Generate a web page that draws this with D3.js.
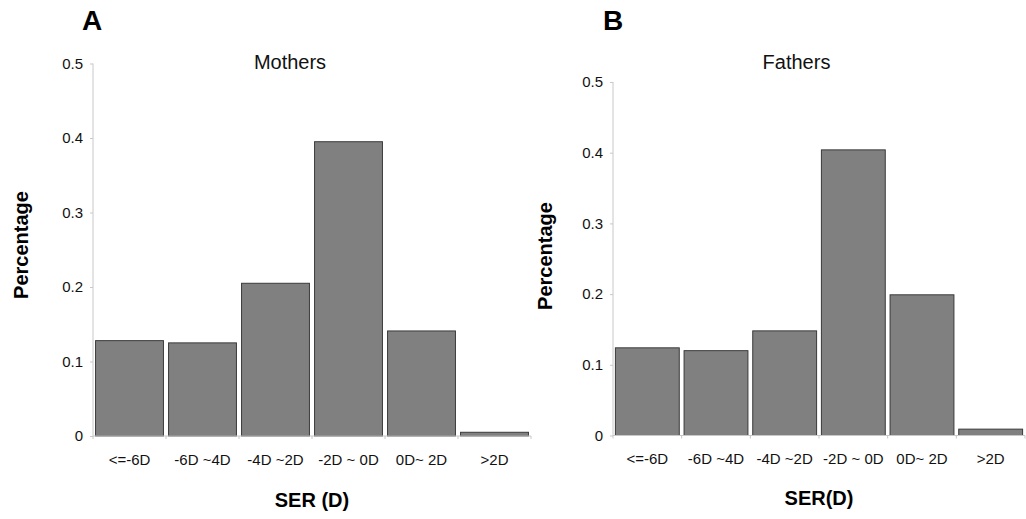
<!DOCTYPE html>
<html>
<head>
<meta charset="utf-8">
<script src="https://cdn.jsdelivr.net/npm/d3@7"></script>
<style>
  body { margin: 0; background: #fff; }
  svg { font-family: "Liberation Sans", Arial, sans-serif; }
  .axis path, .axis line { stroke: #c8c8c8; }
</style>
</head>
<body>
<svg id="chart" width="1026" height="519"></svg>
<script>
// SER groups and share of each group
var categories = ["<=-6D", "-6D ~4D", "-4D ~2D", "-2D ~ 0D", "0D~ 2D", ">2D"];
var mothers = [0.128, 0.125, 0.205, 0.395, 0.141, 0.005];
var fathers = [0.124, 0.120, 0.148, 0.404, 0.199, 0.009];
var yTicks = [0, 0.1, 0.2, 0.3, 0.4, 0.5];

var svg = d3.select("#chart");

function drawPanel(opt) {
  var x = d3.scaleBand().domain(categories).range([opt.x0, opt.x1])
    .paddingInner(0.07).paddingOuter(0.035);
  var y = d3.scaleLinear().domain([0, 0.5]).range([opt.y0, opt.y1]);
  var g = svg.append("g");

  // bars
  g.selectAll("rect.bar")
    .data(opt.values)
    .enter().append("rect")
    .attr("class", "bar")
    .attr("x", function (d, i) { return x(categories[i]); })
    .attr("y", function (d) { return y(d); })
    .attr("width", x.bandwidth())
    .attr("height", function (d) { return opt.y0 - y(d); })
    .attr("fill", "#808080")
    .attr("stroke", "#3a3a3a")
    .attr("stroke-width", 1);

  // y axis
  var ya = g.append("g").attr("class", "axis")
    .attr("transform", "translate(" + opt.x0 + ",0)")
    .call(d3.axisLeft(y).tickValues(yTicks).tickSize(3).tickPadding(7)
      .tickFormat(function (d) { return d === 0 ? "0" : d3.format(".1f")(d); }));
  ya.selectAll("text").attr("font-size", 15).attr("fill", "#111");
  ya.select(".domain").attr("d", "M0," + opt.y0 + "V" + opt.y1);

  // x axis: ticks sit between categories
  var xa = g.append("g").attr("class", "axis")
    .attr("transform", "translate(0," + opt.y0 + ")")
    .call(d3.axisBottom(x).tickSize(0).tickPadding(18));
  xa.selectAll("text").attr("font-size", 15).attr("fill", "#111");
  xa.select(".domain").attr("d", "M" + opt.x0 + ",0H" + opt.x1);
  var step = x.step();
  var bounds = d3.range(categories.length + 1).map(function (i) { return opt.x0 + i * (opt.x1 - opt.x0) / categories.length; });
  xa.selectAll("line.sep").data(bounds).enter().append("line")
    .attr("class", "sep")
    .attr("x1", function (d) { return d; }).attr("x2", function (d) { return d; })
    .attr("y1", 0).attr("y2", 3)
    .attr("stroke", "#c8c8c8");

  // texts
  g.append("text").attr("x", opt.letterX).attr("y", 30)
    .attr("font-size", 28).attr("font-weight", "bold").attr("fill", "#000")
    .text(opt.letter);
  g.append("text").attr("x", opt.titleX).attr("y", 69)
    .attr("text-anchor", "middle").attr("font-size", 20).attr("fill", "#111")
    .text(opt.title);
  g.append("text").attr("x", (opt.x0 + opt.x1) / 2).attr("y", opt.xlabY)
    .attr("text-anchor", "middle").attr("font-size", 20).attr("font-weight", "bold").attr("fill", "#000")
    .text(opt.xlabel);
  g.append("text")
    .attr("transform", "translate(" + opt.ylabX + "," + opt.ylabY + ") rotate(-90)")
    .attr("text-anchor", "middle").attr("font-size", 20).attr("font-weight", "bold").attr("fill", "#000")
    .text("Percentage");
}

drawPanel({ values: mothers, x0: 93, x1: 531, y0: 436, y1: 63.5,
  letter: "A", letterX: 82, title: "Mothers", titleX: 290,
  xlabel: "SER (D)", xlabY: 507, ylabX: 28, ylabY: 245 });

drawPanel({ values: fathers, x0: 613, x1: 1025, y0: 435.5, y1: 82,
  letter: "B", letterX: 603, title: "Fathers", titleX: 796.5,
  xlabel: "SER(D)", xlabY: 505, ylabX: 552, ylabY: 256 });
</script>
</body>
</html>
